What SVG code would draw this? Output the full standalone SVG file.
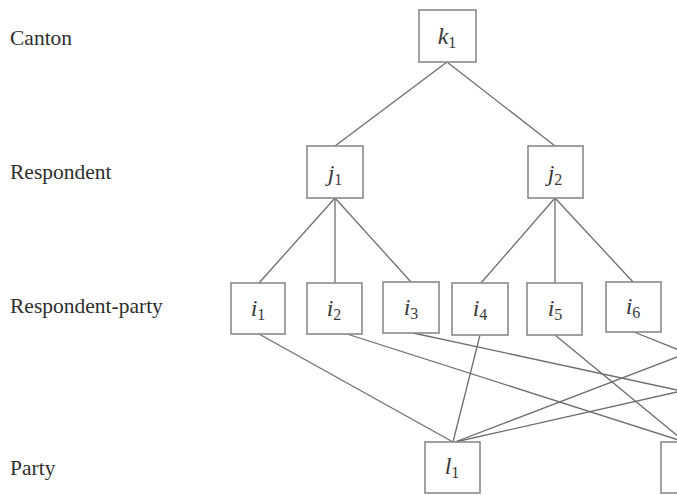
<svg xmlns="http://www.w3.org/2000/svg" width="677" height="495" viewBox="0 0 677 495">
<style>
.box{fill:#fff;stroke:#8a8a8a;stroke-width:1.6}
.edge{stroke:#6e6e6e;stroke-width:1.3;fill:none}
.lvl{font-family:"Liberation Serif",serif;font-size:21.5px;fill:#2e2e2e}
.lab{font-family:"Liberation Serif",serif;font-style:italic;font-size:24px;fill:#3a3a3a;text-anchor:middle}
.sub{font-size:16px;font-style:normal}
</style>
<rect width="677" height="495" fill="#fff"/>
<g id="levels">
<text class="lvl" x="10" y="45">Canton</text>
<text class="lvl" x="10" y="179">Respondent</text>
<text class="lvl" x="10" y="313">Respondent-party</text>
<text class="lvl" x="10" y="475">Party</text>
</g>
<g id="connectors">
<line class="edge" x1="447" y1="62" x2="335" y2="146"/>
<line class="edge" x1="447" y1="62" x2="555" y2="146"/>
<line class="edge" x1="335" y1="198" x2="259" y2="283"/>
<line class="edge" x1="335" y1="198" x2="335" y2="283"/>
<line class="edge" x1="335" y1="198" x2="411" y2="282"/>
<line class="edge" x1="555" y1="198" x2="481" y2="283"/>
<line class="edge" x1="555" y1="198" x2="555" y2="283"/>
<line class="edge" x1="555" y1="198" x2="633" y2="282"/>
<line class="edge" x1="259" y1="334" x2="453" y2="442"/>
<line class="edge" x1="480" y1="335" x2="453" y2="442"/>
<line class="edge" x1="347" y1="334" x2="685" y2="442"/>
<line class="edge" x1="555" y1="335" x2="685" y2="442"/>
<line class="edge" x1="413" y1="333" x2="720" y2="399.3"/>
<line class="edge" x1="634" y1="332" x2="720" y2="366.4"/>
<line class="edge" x1="455" y1="442" x2="720" y2="340.5"/>
<line class="edge" x1="455" y1="442" x2="720" y2="382.3"/>
</g>
<g id="k1"><rect class="box" x="419" y="10" width="57" height="52"/><text class="lab" x="447" y="44">k<tspan class="sub" dy="4">1</tspan></text></g>
<g id="j1"><rect class="box" x="307" y="146" width="56" height="52"/><text class="lab" x="335" y="181">j<tspan class="sub" dy="4">1</tspan></text></g>
<g id="j2"><rect class="box" x="528" y="146" width="55" height="52"/><text class="lab" x="555" y="181">j<tspan class="sub" dy="4">2</tspan></text></g>
<g id="i1"><rect class="box" x="231" y="283" width="54" height="51"/><text class="lab" x="258" y="316">i<tspan class="sub" dy="4">1</tspan></text></g>
<g id="i2"><rect class="box" x="307" y="283" width="55" height="51"/><text class="lab" x="334" y="316">i<tspan class="sub" dy="4">2</tspan></text></g>
<g id="i3"><rect class="box" x="383" y="282" width="56" height="51"/><text class="lab" x="411" y="315">i<tspan class="sub" dy="4">3</tspan></text></g>
<g id="i4"><rect class="box" x="452" y="283" width="56" height="52"/><text class="lab" x="480" y="316">i<tspan class="sub" dy="4">4</tspan></text></g>
<g id="i5"><rect class="box" x="527" y="283" width="55" height="52"/><text class="lab" x="555" y="316">i<tspan class="sub" dy="4">5</tspan></text></g>
<g id="i6"><rect class="box" x="606" y="282" width="55" height="50"/><text class="lab" x="633" y="314">i<tspan class="sub" dy="4">6</tspan></text></g>
<g id="l1"><rect class="box" x="425" y="442" width="55" height="51"/><text class="lab" x="452" y="474">l<tspan class="sub" dy="4">1</tspan></text></g>
<g id="l2"><rect class="box" x="661" y="442" width="55" height="51"/><text class="lab" x="688" y="474">l<tspan class="sub" dy="4">2</tspan></text></g>
</svg>
